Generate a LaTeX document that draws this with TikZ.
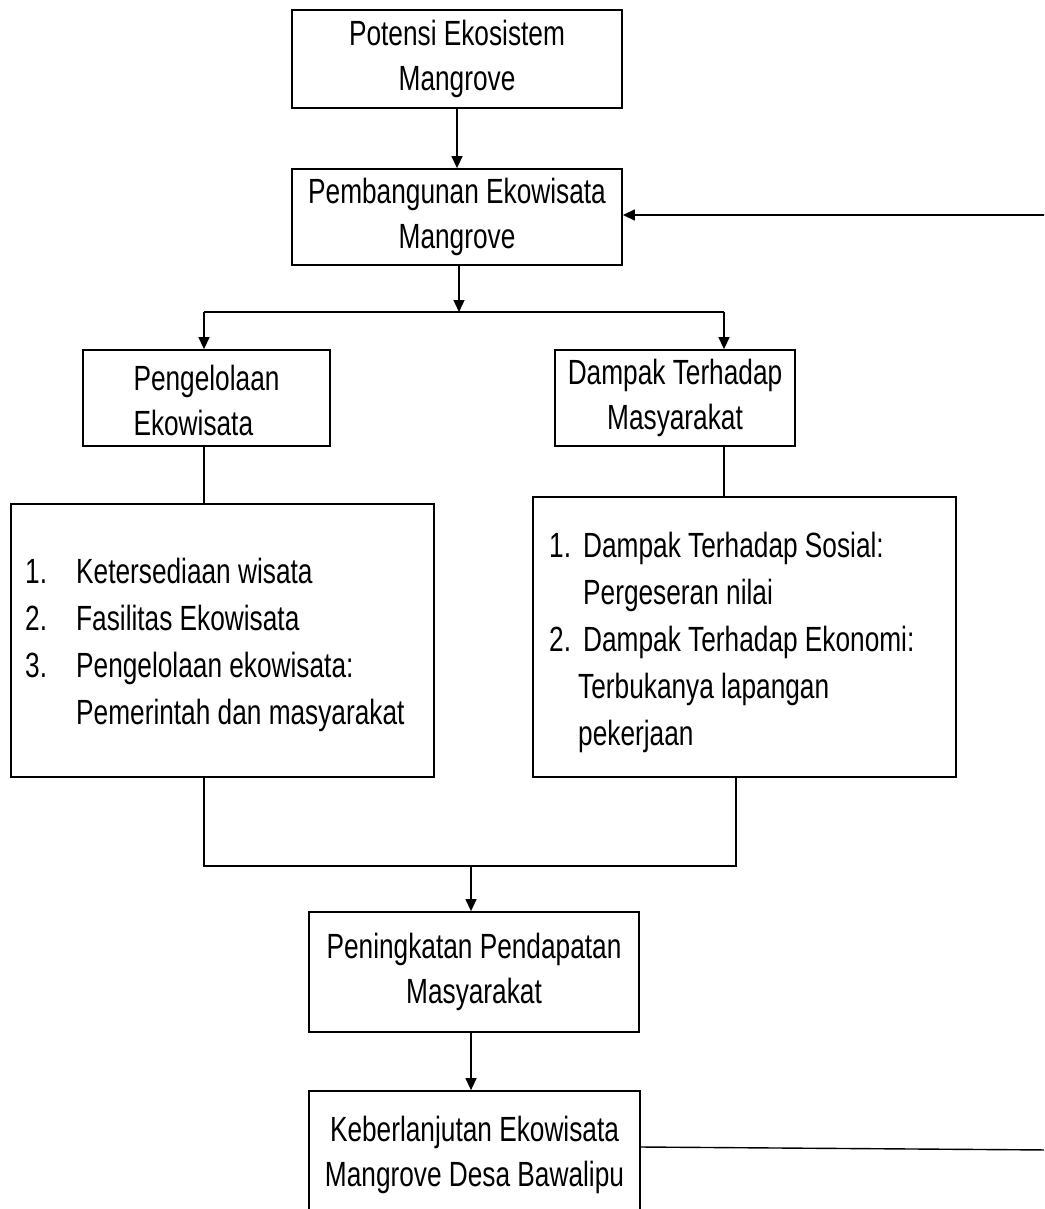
\documentclass[tikz,border=0pt]{standalone}
\usepackage{fontspec}
\setmainfont{Liberation Sans}[FakeStretch=0.75]
\usetikzlibrary{arrows.meta,calc}
\tikzset{
  box/.style={draw, line width=1.8pt, inner sep=0pt, align=center,
    font=\fontsize{35}{45}\selectfont},
  conn/.style={line width=1.4pt},
  arr/.style={line width=1.4pt, -{Triangle[length=12pt,width=11pt]}},
  listtext/.style={inner sep=0pt, anchor=base west, align=left,
    font=\fontsize{35}{47}\selectfont}
}
\begin{document}
\begin{tikzpicture}[x=1pt,y=-1pt]
\useasboundingbox (0,0) rectangle (1044,1209);
\clip (0,0) rectangle (1044,1209);
\fill[white] (0,0) rectangle (1044,1209);

\node[box, minimum width=330pt, minimum height=98pt] (b1) at (457,59) {Potensi Ekosistem\\Mangrove};
\node[box, minimum width=330pt, minimum height=96pt] (b2) at (457,217) {Pembangunan Ekowisata\\Mangrove};
\node[box, minimum width=247pt, minimum height=96pt] (b3) at (206.5,398) {};
\node[inner sep=0pt, align=left, font=\fontsize{35}{45}\selectfont] (t3) at (206.5,400) {Pengelolaan\\Ekowisata};
\node[box, minimum width=240pt, minimum height=96pt] (b4) at (675,398) {Dampak Terhadap\\Masyarakat};
\node[box, minimum width=423pt, minimum height=273pt] (b5) at (222.5,640.5) {};
\node[box, minimum width=423pt, minimum height=280pt] (b6) at (744.5,637) {};
\node[listtext] (t5) at (25,583) {\begin{tabular}[t]{@{}p{51pt}@{}l@{}}
1. & Ketersediaan wisata\\
2. & Fasilitas Ekowisata\\
3. & Pengelolaan ekowisata:\\
   & Pemerintah dan masyarakat
\end{tabular}};
\node[listtext] (t6) at (549,557) {\begin{tabular}[t]{@{}p{34pt}@{}l@{}}
1. & Dampak Terhadap Sosial:\\
   & Pergeseran nilai\\
2. & Dampak Terhadap Ekonomi:\\
   & \hspace{-5pt}Terbukanya lapangan\\
   & \hspace{-5pt}pekerjaan
\end{tabular}};
\node[box, minimum width=330pt, minimum height=120pt] (b7) at (474,972) {Peningkatan Pendapatan\\Masyarakat};
\node[box, minimum width=331pt, minimum height=127pt] (b8) at (474.5,1154.5) {Keberlanjutan Ekowisata\\Mangrove Desa Bawalipu};

% connectors
\draw[arr] (b1.south) -- (b2.north);
\coordinate (split) at (459,312);
\coordinate (hl) at (204,312);
\coordinate (hr) at (724,312);
\draw[arr] (b2.south -| split) -- (split);
\draw[conn] (hl) -- (hr);
\draw[arr] (hl) -- (b3.north -| hl);
\draw[arr] (hr) -- (b4.north -| hr);
\draw[conn] (b3.south -| hl) -- (b5.north -| hl);
\draw[conn] (b4.south -| hr) -- (b6.north -| hr);
\coordinate (jl) at (204,866);
\coordinate (jr) at (736,866);
\draw[conn] (b5.south -| jl) -- (jl) -- (jr) -- (b6.south -| jr);
\coordinate (jm) at (471,866);
\draw[arr] (jm) -- (b7.north -| jm);
\draw[arr] (b7.south -| jm) -- (b8.north -| jm);
% feedback lines (vertical part outside picture)
\coordinate (fbtop) at (1050,215);
\coordinate (fbbot) at (1050,1150);
\coordinate (fbbotl) at (640,1147);
\draw[arr] (fbtop) -- (b2.east |- fbtop);
\draw[conn] (b8.east |- fbbotl) -- (fbbot);
\end{tikzpicture}
\end{document}
